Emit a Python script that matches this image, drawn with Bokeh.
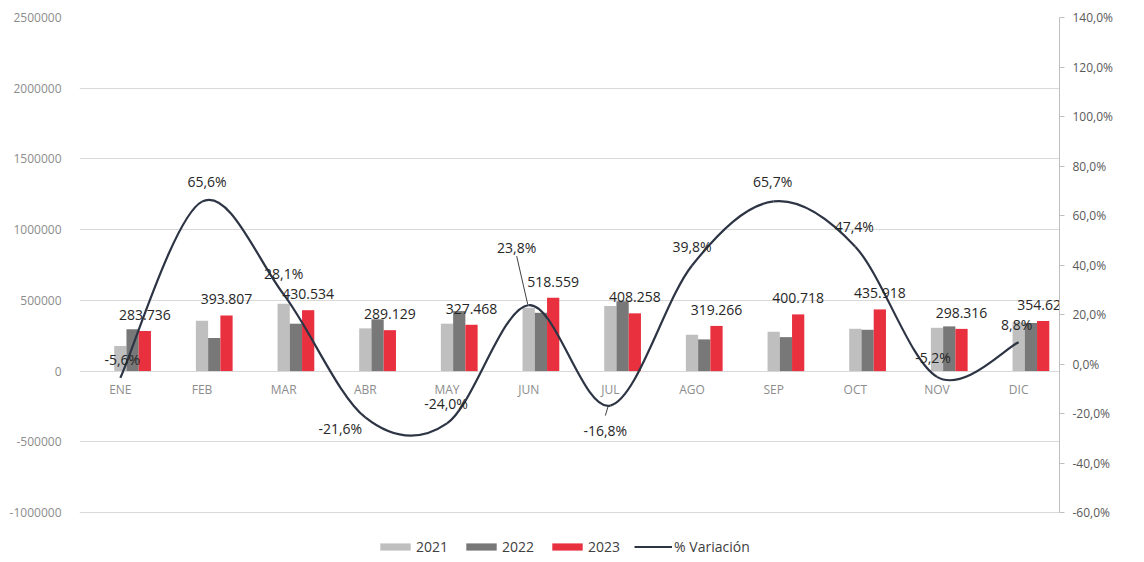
from bokeh.plotting import figure
from bokeh.models import (ColumnDataSource, FactorRange, Range1d, LinearAxis, FixedTicker,
                          CustomJSTickFormatter, Legend, LegendItem)
from bokeh.transform import dodge
from bokeh.core.properties import value
from bokeh.embed import file_html
from bokeh.resources import INLINE

# ---------------- data ----------------
meses = ["ENE", "FEB", "MAR", "ABR", "MAY", "JUN", "JUL", "AGO", "SEP", "OCT", "NOV", "DIC"]
v2021 = [177000, 356000, 476000, 302000, 335000, 448000, 460000, 257000, 278000, 299000, 306000, 345000]
v2022 = [295000, 233000, 335000, 366000, 424000, 412000, 493000, 224000, 240000, 292000, 316000, 340000]
v2023 = [283736, 393807, 430534, 289129, 327468, 518559, 408258, 319266, 400718, 435918, 298316, 354623]
variacion = [-5.6, 65.6, 28.1, -21.6, -24.0, 23.8, -16.8, 39.8, 65.7, 47.4, -5.2, 8.8]
left_ticks = [-1000000, -500000, 0, 500000, 1000000, 1500000, 2000000, 2500000]
right_ticks = [-60, -40, -20, 0, 20, 40, 60, 80, 100, 120, 140]

# ---------------- styles / label placement (pixels) ----------------
FONT = "Open Sans"
C2021, C2022, C2023, CLINE = "#bfbfbf", "#787878", "#e8303f", "#2d3545"
FRAME_W, AXIS_H = 980, 495          # axis span in pixels
LEGEND_ROOM = 46                    # extra pixels below the axes for the legend
lbl_dx = [2, 5, 0, -25, -1, -12, -5, 0, -1, -1, -4, -2]
lbl_dy = [-18, -20, -21, 11, -20, -58, 25, -19, -20, -20, -19, -18]
leaders = {5: ((-1, -1), (-12, -49)), 6: ((-2, 0), (-5, 10))}
LEGEND_POS = (297, 2)               # px from the frame's bottom-left corner

n = len(meses)
src = ColumnDataSource(dict(
    mes=meses, v2021=v2021, v2022=v2022, v2023=v2023,
    base=[0] * n,
    lbl2023=[f"{v:,}".replace(",", ".") for v in v2023],
    pct=variacion,
    lblpct=[f"{v:.1f}".replace(".", ",") + "%" for v in variacion],
    dx=lbl_dx, dy=lbl_dy,
))

lo, hi = left_ticks[0], left_ticks[-1]
plo, phi = right_ticks[0], right_ticks[-1]
left_start = lo - LEGEND_ROOM * (hi - lo) / AXIS_H
right_start = plo - LEGEND_ROOM * (phi - plo) / AXIS_H

p = figure(x_range=FactorRange(factors=meses, range_padding=0),
           y_range=Range1d(left_start, hi),
           x_axis_location=None,
           frame_width=FRAME_W, frame_height=AXIS_H + LEGEND_ROOM,
           min_border_left=79, min_border_right=77, min_border_top=17, min_border_bottom=2,
           output_backend="svg", toolbar_location=None, outline_line_color=None,
           background_fill_color="white", border_fill_color="white")
p.extra_y_ranges = {"pct": Range1d(right_start, phi)}

# left axis
p.yaxis.ticker = FixedTicker(ticks=left_ticks)
p.yaxis.formatter = CustomJSTickFormatter(code="return tick.toFixed(0);")
p.yaxis.axis_line_color = None
p.yaxis.major_tick_line_color = None
p.yaxis.minor_tick_line_color = None
p.yaxis.major_label_standoff = 12
p.yaxis.major_label_text_color = "#8c8c8c"
p.yaxis.major_label_text_font = FONT
p.yaxis.major_label_text_font_size = "12px"
p.ygrid.grid_line_color = "#d9d9d9"
p.xgrid.grid_line_color = None

# right axis
rax = LinearAxis(y_range_name="pct", ticker=FixedTicker(ticks=right_ticks), bounds=(plo, phi),
                 formatter=CustomJSTickFormatter(code="return tick.toFixed(1).replace('.', ',') + '%';"),
                 axis_line_color="#bfbfbf", major_tick_line_color="#bfbfbf",
                 major_tick_in=0, major_tick_out=5, minor_tick_line_color=None,
                 major_label_text_color="#595959", major_label_text_font=FONT,
                 major_label_text_font_size="12px", major_label_standoff=8)
p.add_layout(rax, "right")

# bars
r21 = p.vbar(x=dodge("mes", 0.0, range=p.x_range), top="v2021", width=0.15, source=src,
             fill_color=C2021, line_color=None)
r22 = p.vbar(x=dodge("mes", 0.15, range=p.x_range), top="v2022", width=0.15, source=src,
             fill_color=C2022, line_color=None)
r23 = p.vbar(x=dodge("mes", 0.30, range=p.x_range), top="v2023", width=0.15, source=src,
             fill_color=C2023, line_color=None)

# category labels on the zero line
p.text(x="mes", y="base", text="mes", source=src, y_offset=18,
       text_align="center", text_baseline="middle",
       text_font=value(FONT), text_font_size="12px", text_color="#8c8c8c")

# smoothed % line (Catmull-Rom style bezier segments through the data points)
xs = [i + 0.5 for i in range(n)]
seg = dict(x0=[], y0=[], x1=[], y1=[], cx0=[], cy0=[], cx1=[], cy1=[])
for i in range(n - 1):
    a, b = max(i - 1, 0), min(i + 2, n - 1)
    seg["x0"].append(xs[i]); seg["y0"].append(variacion[i])
    seg["x1"].append(xs[i + 1]); seg["y1"].append(variacion[i + 1])
    seg["cx0"].append(xs[i] + (xs[i + 1] - xs[a]) / 6)
    seg["cy0"].append(variacion[i] + (variacion[i + 1] - variacion[a]) / 6)
    seg["cx1"].append(xs[i + 1] - (xs[b] - xs[i]) / 6)
    seg["cy1"].append(variacion[i + 1] - (variacion[b] - variacion[i]) / 6)
p.bezier(x0="x0", y0="y0", x1="x1", y1="y1", cx0="cx0", cy0="cy0", cx1="cx1", cy1="cy1",
         source=ColumnDataSource(seg), y_range_name="pct", line_color=CLINE, line_width=2.2)
# legend stand-in for the curve (a single undefined point, draws nothing in the plot)
rline = p.line(x=[xs[0]], y=[float("nan")], y_range_name="pct", line_color=CLINE, line_width=2.2)

# leader lines for moved labels
px_x = FRAME_W / n
px_y = AXIS_H / (phi - plo)
lx0, ly0, lx1, ly1 = [], [], [], []
for i, ((ax0, ay0), (ax1, ay1)) in leaders.items():
    lx0.append(xs[i] + ax0 / px_x); ly0.append(variacion[i] - ay0 / px_y)
    lx1.append(xs[i] + ax1 / px_x); ly1.append(variacion[i] - ay1 / px_y)
p.segment(x0=lx0, y0=ly0, x1=lx1, y1=ly1, y_range_name="pct", line_color="#404040", line_width=1)

# data labels
p.text(x=dodge("mes", 0.30, range=p.x_range), y="v2023", text="lbl2023", source=src,
       y_offset=-16, text_align="center", text_baseline="middle",
       text_font=value(FONT), text_font_size="14px", text_color="#262626")
p.text(x="mes", y="pct", text="lblpct", source=src, y_range_name="pct",
       x_offset="dx", y_offset="dy", text_align="center", text_baseline="middle",
       text_font=value(FONT), text_font_size="14px", text_color="#262626")

legend = Legend(items=[LegendItem(label="2021", renderers=[r21]),
                       LegendItem(label="2022", renderers=[r22]),
                       LegendItem(label="2023", renderers=[r23]),
                       LegendItem(label="% Variación", renderers=[rline])],
                orientation="horizontal", location=LEGEND_POS,
                glyph_width=38, glyph_height=9, label_height=14, label_standoff=2,
                spacing=14, padding=2, margin=0, border_line_color=None,
                background_fill_alpha=0, label_text_font=FONT,
                label_text_font_size="14px", label_text_color="#404040")
p.add_layout(legend, "center")

open("out.html", "w").write(file_html(p, INLINE))
